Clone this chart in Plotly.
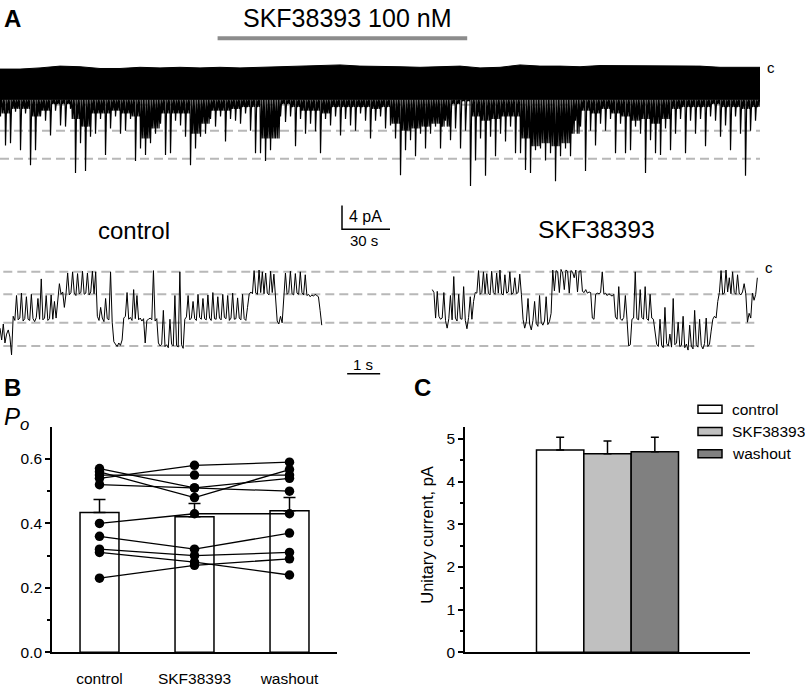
import plotly.graph_objects as go

W, H = 805, 690
def px(x): return x / W
def py(y): return 1 - y / H

FONT = "Liberation Sans, Arial, sans-serif"

# ---------------- Panel A: long recording (decimated envelopes, pA) ----------------
TOP_STEP_S = 12.5      # interval of the upper-envelope samples
BAND_STEP_S = 6.25     # interval of the dense-band lower-envelope samples
SPIKE_STEP_S = 3.125   # interval of the deepest-excursion samples
LONG_DURATION_S = 475
CORE_PA = -4.8         # bottom of the solid black part of the trace

TRACE_TOP_PA = [0.3, 0.3, 0.5, 0.8, 0.7, 0.4, 0.4, 0.6, 0.5, 0.6, 0.5, 0.6, 0.5,
                0.6, 0.7, 0.7, 0.8, 1.0, 0.8, 0.8, 0.7, 0.6, 0.7, 0.8, 0.5, 0.6,
                1.0, 0.8, 0.8, 0.7, 0.9, 0.9, 0.8, 0.9, 0.8, 0.8, 0.6, 0.6, 0.6]

TRACE_BAND_PA = [-7.2, -6.4, -6.4, -7.7, -6.7, -5.6, -5.6, -8.1, -9.4, -7.2,
                 -7.2, -6.7, -7.2, -7.7, -11.4, -9.7, -7.2, -7.2, -7.2, -10.6,
                 -8.9, -6.7, -6.7, -6.4, -6.1, -6.1, -11.4, -11.4, -5.6, -6.1,
                 -6.7, -6.7, -7.2, -6.1, -6.1, -6.1, -6.1, -6.4, -6.1, -8.9,
                 -10.1, -9.7, -9.4, -8.9, -9.4, -5.6, -5.1, -7.7, -8.4, -8.1,
                 -7.7, -7.7, -11.4, -12.7, -12.2, -12.7, -12.2, -10.6, -6.7, -7.2,
                 -6.4, -7.2, -7.7, -8.4, -8.1, -8.9, -8.1, -6.4, -6.1, -6.1,
                 -6.1, -5.6, -6.1, -6.1, -6.4, -6.1, -4.7]

TRACE_SPIKE_PA = [
    -7.7, -12.6, -12.2, -6.9, -13.4, -7.2, -15.9, -13.4, -7.7, -8.4,
    -10.9, -6.7, -9.2, -9.4, -6.4, -17.2, -12.2, -16.9, -11.1, -10.6,
    -8.1, -14.2, -9.7, -7.7, -10.6, -10.1, -8.1, -15.2, -13.1, -14.2,
    -12.2, -10.6, -8.9, -14.2, -13.9, -8.4, -9.2, -11.1, -15.9, -13.1,
    -11.1, -10.6, -8.1, -9.4, -7.7, -11.9, -8.1, -8.4, -8.9, -7.2,
    -10.1, -13.9,
    -13.9, -15.2, -13.4, -11.4, -7.7, -8.6, -7.7, -12.7, -8.1, -10.6,
    -8.9, -10.2, -13.9, -8.1, -9.2, -7.7, -10.9, -8.1, -9.2, -10.1,
    -7.2, -8.4, -11.4, -8.4, -7.7, -9.7, -9.2, -11.4, -17.6, -13.4,
    -11.7, -14.4, -10.6, -13.1, -10.6, -9.4, -13.1, -8.4, -11.7, -9.7,
    -13.1, -10.1, -19.4, -15.1, -11.4, -17.7, -11.1, -14.4, -10.6, -11.9,
    -9.4, -13.9,
    -13.9, -16.7, -17.2, -13.4, -13.1, -15.1, -13.9, -18.6, -14.4, -13.1,
    -14.4, -8.4, -9.4, -16.9, -10.1, -12.6, -8.9, -10.1, -8.1, -13.9,
    -8.9, -13.9, -13.4, -9.4, -10.6, -17.2, -11.7, -13.9, -14.2, -9.7,
    -13.4, -10.6, -8.1, -13.9, -8.4, -10.6, -8.1, -12.7, -7.7, -8.4,
    -11.1, -9.2, -13.4, -7.7, -10.6, -17.7, -10.1, -8.4]

LEVELS_LONG_PA = [0, -5.7, -10.1, -14.8]
DRUG_ON_S, DRUG_OFF_S, DRUG_MARK_PA = 136, 292, 5.5
DRUG_LABEL = "SKF38393 100 nM"
SCALE_T0_S, SCALE_Y0_PA = 213.75, -26.7
SCALE_PA, SCALE_S = 4, 30

# ---------------- Panel A: expanded traces ----------------
SHORT_DT_S = 0.05
SHORT_DURATION_S = 23.0
SKF_START_S = 13.1
CONTROL_PA = [
    -9.5, -11.5, -8.8, -12.0, -10.5, -9.8, -11.0, -14.0,
    -7.5, -8.2, -4.0, -8.1, -7.8, -3.6, -8.3, -7.9, -4.2, -8.0,
    -8.2, -3.8, -7.9, -8.4, -7.7, -4.5, -8.0, -1.2, -8.1, -7.8,
    -4.0, -8.2, -7.9, -3.9, -8.0, -5.0, -7.8, -4.2, -2.0,
    -3.8, -3.4, -6.0, -3.7, -0.2, -3.9, -3.5, 0.0, -3.6, -4.0,
    -0.3, -3.7, -3.5, 0.1, -3.8, -3.6, -0.2, -3.9,
    -3.4, 0.1, -3.7, 0.0,
    -7.5, -8.2, -6.0, -7.8, -8.4, -4.5, -7.9, -8.1, 0.0, -8.5,
    -11.8, -12.3, -12.6, -12.0, -12.4, -11.5,
    -7.8, -7.5, -3.5, -8.0, -7.7, -8.2, -3.0, -7.9, -4.0, -8.1,
    -7.8, -8.3, -7.9, -12.0, -8.2,
    -8.0, -7.8, -8.1, 0.2, -8.3, -7.9,
    -12.0, -12.5, -12.2, -6.5, -12.6, -12.3, -12.8, -8.0, -12.2, -12.5,
    -4.0, -12.4, -12.7, 0.0, -12.3, -12.9,
    -8.0, -7.6, -4.0, -8.1, -7.8, -5.0, -7.9, -8.2, -3.8, -7.7,
    -8.0, -4.5, -7.9, -8.1, -3.9, -7.8, -8.2, -3.5, -7.9, -8.0,
    -4.2, -7.8, -8.1, -3.8, -7.7, -7.9, -4.0, -8.2, -7.8, -3.6,
    -8.0, -7.9, -4.4, -7.8, -8.1, -3.8, -7.9, -8.2,
    -6.0, -3.8, -3.4, -3.7,
    0.2, -3.6, -3.8, 0.3, -3.5, 0.0, -3.7, -0.2, -3.6, -3.9,
    0.1, -3.5, -0.4, -3.8,
    -8.3, -8.8, -7.5, -8.6,
    -3.6, -0.2, -3.8, -3.5, 0.1, -3.7, -3.9, -0.3, -3.6, -3.8,
    0.0, -3.5, -3.9, -0.5,
    -4.0, -3.8, -4.2, -3.9, -4.1, -3.8, -4.0, -4.2,
    -6.5, -9.0]
SKF_PA = [
    -3.0, -3.5, -7.8, -3.3, -7.5,
    -8.0, -7.8, -3.5, -8.2, -9.5, -7.9, -4.0, -8.1, -0.8, -7.8,
    -8.3, -3.8, -7.9, -8.0, -2.5, -8.2, -9.6, -7.7, -4.2, -8.0,
    -5.0, -3.5,
    -3.6, 0.2, -3.8, -3.5, 0.0, -3.7, -0.3, -3.6, -3.9, 0.1,
    -3.5, -3.8, -0.2, -3.6, 0.3, -3.7, -3.9, -0.5, -3.6, -3.4,
    0.0, -3.8, -3.6, -1.0, -3.7, -3.5, -0.4, -3.8,
    -8.0, -9.5, -8.4, -4.5, -8.8, -9.8, -8.2, -5.0, -8.7, -9.2,
    -4.0, -8.5, -9.0, -8.3, -4.2, -8.9, -8.4, -7.0,
    0.3, -3.2, 0.2, 0.0, -3.5, 0.4, -0.2, -3.0, 0.3, 0.1,
    -3.6, 0.2, 0.0, -1.0, 0.3, -3.4, 0.1, 0.2, -3.3, -3.5,
    -3.0, -3.6, -3.4, -3.5,
    -7.8, -8.0, -3.8, -3.6,
    -3.7, -3.5, 0.0, -3.8, -3.6, -4.0, -3.7, -3.9, -4.1, -3.8,
    -7.6, -8.0, -2.5, -7.9, -8.2, -7.7, -4.0, -8.0,
    -12.5, -12.3, -8.0,
    -7.8, 0.0, -7.9, -8.1, -3.0, -7.7, -8.0, -2.5, -7.9, -8.2,
    -3.8, -7.8, -8.0, -10.0,
    -12.2, -12.6, -8.0, -12.4, -12.8, -6.0, -12.1, -12.5, -10.5, -12.7,
    -4.5, -12.3, -12.0, -8.5, -12.6, -12.4, -7.5, -12.8, -12.2, -13.2,
    -9.0, -12.5, -13.0, -6.5, -12.3, -12.7, -8.0, -12.4, -13.0, -12.1,
    -7.8, -12.6, -12.2, -10.0,
    -8.0, -7.5, -7.8, -5.0,
    -3.5, 0.2, -3.8, -3.6, 0.3, -3.4, -1.0, -3.7, 0.0, -3.5,
    -3.8, -0.5, -3.6, -3.9, -3.4, -2.0, -3.7,
    -8.5, -7.0, -7.8,
    -3.6, -4.8, -3.8, -1.0]
LEVELS_SHORT_PA = [0, -3.8, -8.6, -12.5]
SCALE_SHORT_T0_S, SCALE_SHORT_Y_PA, SCALE_SHORT_S = 10.52, -17.17, 1

# ---------------- Panel B ----------------
CONDITIONS = ["control", "SKF38393", "washout"]
PO_MEAN = [0.434, 0.421, 0.439]
PO_SEM = [0.040, 0.041, 0.041]
PO_CELLS = [
    [0.54, 0.58, 0.59],
    [0.55, 0.55, 0.55],
    [0.57, 0.51, 0.54],
    [0.56, 0.48, 0.567],
    [0.52, 0.51, 0.50],
    [0.40, 0.43, 0.43],
    [0.36, 0.32, 0.37],
    [0.32, 0.30, 0.31],
    [0.31, 0.28, 0.24],
    [0.23, 0.27, 0.29],
]
PO_TICKS = [0.0, 0.2, 0.4, 0.6]

# ---------------- Panel C ----------------
UNIT_MEAN = [4.74, 4.65, 4.70]
UNIT_SEM = [0.30, 0.30, 0.34]
BAR_COLORS = ["#ffffff", "#c0c0c0", "#808080"]
UNIT_TICKS = [0, 1, 2, 3, 4, 5]

fig = go.Figure()

# ---- long trace ----
for lv in LEVELS_LONG_PA:
    fig.add_trace(go.Scatter(x=[0, LONG_DURATION_S], y=[lv, lv], mode="lines",
                             line=dict(color="#b8b8b8", width=2, dash="9px,5px"),
                             xaxis="x", yaxis="y", hoverinfo="skip"))
top_t = [k * TOP_STEP_S for k in range(len(TRACE_TOP_PA))]
poly_x = top_t + [top_t[-1], 0]
poly_y = TRACE_TOP_PA + [CORE_PA, CORE_PA]
fig.add_trace(go.Scatter(x=poly_x, y=poly_y, mode="lines", fill="toself",
                         fillcolor="black", line=dict(color="black", width=1),
                         xaxis="x", yaxis="y", hoverinfo="skip"))
sx, sy = [], []
d = SPIKE_STEP_S
for i, s in enumerate(TRACE_SPIKE_PA):
    t = i * d
    b = TRACE_BAND_PA[i // 2]
    sx += [t, t + 0.1 * d, t + 0.2 * d, t + 0.35 * d, t + 0.45 * d, t + 0.55 * d,
           t + 0.7 * d, t + 0.8 * d, t + 0.9 * d]
    sy += [CORE_PA, s, CORE_PA, CORE_PA, b, CORE_PA, CORE_PA, b, CORE_PA]
fig.add_trace(go.Scatter(x=sx, y=sy, mode="lines", line=dict(color="black", width=1.2),
                         xaxis="x", yaxis="y", hoverinfo="skip"))
# drug application bar
fig.add_trace(go.Scatter(x=[DRUG_ON_S, DRUG_OFF_S], y=[DRUG_MARK_PA, DRUG_MARK_PA], mode="lines",
                         line=dict(color="#8c8c8c", width=4), xaxis="x", yaxis="y"))
# scale bar 4 pA / 30 s
fig.add_trace(go.Scatter(x=[SCALE_T0_S, SCALE_T0_S, SCALE_T0_S + SCALE_S],
                         y=[SCALE_Y0_PA + SCALE_PA, SCALE_Y0_PA, SCALE_Y0_PA], mode="lines",
                         line=dict(color="black", width=1.5), xaxis="x", yaxis="y"))

# ---- expanded traces ----
for lv in LEVELS_SHORT_PA:
    fig.add_trace(go.Scatter(x=[0.1, SHORT_DURATION_S], y=[lv, lv], mode="lines",
                             line=dict(color="#b8b8b8", width=2, dash="9px,5px"),
                             xaxis="x2", yaxis="y2", hoverinfo="skip"))
fig.add_trace(go.Scatter(x=[i * SHORT_DT_S for i in range(len(CONTROL_PA))], y=CONTROL_PA,
                         mode="lines", line=dict(color="black", width=1),
                         xaxis="x2", yaxis="y2"))
fig.add_trace(go.Scatter(x=[SKF_START_S + i * SHORT_DT_S for i in range(len(SKF_PA))], y=SKF_PA,
                         mode="lines", line=dict(color="black", width=1),
                         xaxis="x2", yaxis="y2"))
fig.add_trace(go.Scatter(x=[SCALE_SHORT_T0_S, SCALE_SHORT_T0_S + SCALE_SHORT_S],
                         y=[SCALE_SHORT_Y_PA, SCALE_SHORT_Y_PA], mode="lines",
                         line=dict(color="black", width=1.5), xaxis="x2", yaxis="y2"))

# ---- panel B ----
fig.add_trace(go.Bar(x=CONDITIONS, y=PO_MEAN, width=0.41,
                     marker=dict(color="white", line=dict(color="black", width=1.5)),
                     error_y=dict(type="data", symmetric=False, array=PO_SEM,
                                  arrayminus=[0] * len(PO_SEM), color="black",
                                  thickness=1.5, width=6),
                     xaxis="x3", yaxis="y3"))
for cell in PO_CELLS:
    fig.add_trace(go.Scatter(x=CONDITIONS, y=cell, mode="lines+markers",
                             line=dict(color="black", width=1.3),
                             marker=dict(color="black", size=9.5),
                             xaxis="x3", yaxis="y3"))

# ---- panel C ----
for name, m, s, c in zip(CONDITIONS, UNIT_MEAN, UNIT_SEM, BAR_COLORS):
    fig.add_trace(go.Bar(x=[name], y=[m], width=1, name=name,
                         marker=dict(color=c, line=dict(color="black", width=1.5)),
                         error_y=dict(type="data", symmetric=False, array=[s], arrayminus=[0],
                                      color="black", thickness=1.5, width=4),
                         xaxis="x4", yaxis="y4"))

hidden = dict(visible=False, showgrid=False, zeroline=False, fixedrange=True)
axis_common = dict(showgrid=False, zeroline=False, showline=True, linecolor="black",
                   linewidth=1.5, fixedrange=True)

# domains in pixels
TOP_PX = (30, 245)
LOW_PX = (255, 385)
BC_PX = (431.7, 660)

fig.update_layout(
    width=W, height=H, margin=dict(l=0, r=0, t=0, b=0),
    paper_bgcolor="white", plot_bgcolor="rgba(0,0,0,0)",
    showlegend=False, barmode="overlay",
    font=dict(family=FONT, color="black"),
    xaxis=dict(domain=[0, px(760)], range=[0, LONG_DURATION_S], **hidden),
    yaxis=dict(domain=[py(TOP_PX[1]), py(TOP_PX[0])],
               range=[(71.7 - TOP_PX[1]) / 6, (71.7 - TOP_PX[0]) / 6], **hidden),
    xaxis2=dict(domain=[0, px(760)], range=[0, 760 / 33], **hidden),
    yaxis2=dict(domain=[py(LOW_PX[1]), py(LOW_PX[0])],
                range=[(275 - LOW_PX[1]) / 6, (275 - LOW_PX[0]) / 6], **hidden),
    xaxis3=dict(domain=[px(52), px(337)], range=[-0.5, 2.5], type="category",
                ticks="", tickfont=dict(size=15.5), ticklabelstandoff=11,
                anchor="y3", **axis_common),
    yaxis3=dict(domain=[py(BC_PX[1]), py(BC_PX[0])], range=[0, 0.7],
                tickvals=PO_TICKS, ticktext=[f"{v:.1f}" for v in PO_TICKS],
                ticks="outside", ticklen=5, tickwidth=1.5, tickcolor="black",
                tickfont=dict(size=15.5),
                minor=dict(tickvals=[0.1, 0.3, 0.5], ticks="outside", ticklen=3,
                           tickwidth=1.5, tickcolor="black", showgrid=False),
                anchor="x3", **axis_common),
    xaxis4=dict(domain=[px(465), px(750)], range=[-2.01, 4.01], type="category",
                ticks="", showticklabels=False, anchor="y4", **axis_common),
    yaxis4=dict(domain=[py(BC_PX[1]), py(BC_PX[0])], range=[0, 5.285],
                tickvals=UNIT_TICKS, ticks="outside", ticklen=5, tickwidth=1.5,
                tickcolor="black", tickfont=dict(size=15.5),
                minor=dict(tickvals=[0.5, 1.5, 2.5, 3.5, 4.5], ticks="outside", ticklen=3,
                           tickwidth=1.5, tickcolor="black", showgrid=False),
                anchor="x4", **axis_common),
)

ann = []
def text(x, y, s, size, xanchor="center", yanchor="middle", angle=0, **kw):
    ann.append(dict(x=px(x), y=py(y), xref="paper", yref="paper", text=s, showarrow=False,
                    xanchor=xanchor, yanchor=yanchor, textangle=angle,
                    font=dict(family=FONT, size=size, color="black"), **kw))

text(12.5, 18.5, "<b>A</b>", 24)
text(12.5, 392, "<b>B</b>", 24)
text(422.5, 392, "<b>C</b>", 24)
text(346.5, 18, DRUG_LABEL, 25)
text(770.5, 68, "c", 15)
text(768.5, 271, "c", 15)
text(133.5, 233, "control", 24)
text(596.5, 232, "SKF38393", 24.7)
text(347, 219, f"{SCALE_PA} pA", 16, xanchor="left")
text(364, 243, f"{SCALE_S} s", 15)
text(363, 369, f"{SCALE_SHORT_S} s", 15)
text(2, 423, "<i>P<sub>o</sub></i>", 24, xanchor="left")
text(427, 541, "Unitary current, pA", 16.5, angle=-90)

shapes = []
for k, (name, col) in enumerate(zip(CONDITIONS, BAR_COLORS)):
    yc = 414 + 22.5 * k
    shapes.append(dict(type="rect", xref="paper", yref="paper",
                       x0=px(698), x1=px(722), y0=py(yc + 4), y1=py(yc - 4),
                       fillcolor=col, line=dict(color="black", width=1.5)))
    text(730, yc, name, 15.5, xanchor="left")

fig.update_layout(annotations=ann, shapes=shapes)
fig.write_html("out.html", config={"displayModeBar": False},
               post_script="document.body.style.margin='0px';")
